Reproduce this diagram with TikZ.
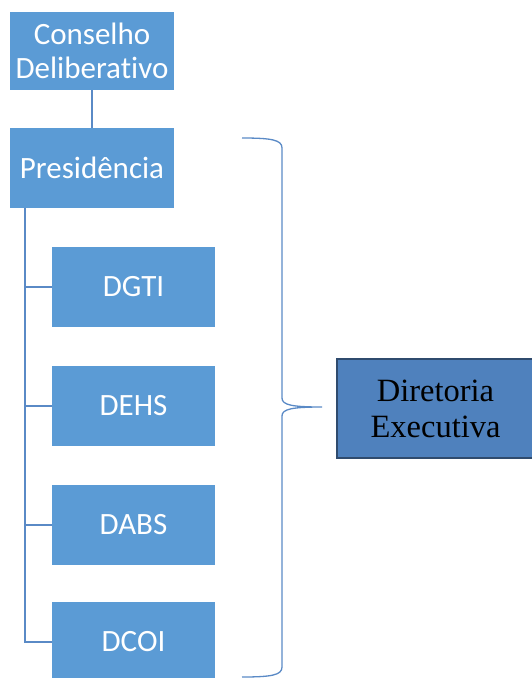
\documentclass[tikz,border=0pt]{standalone}
\usepackage{fontspec}
\setmainfont{Carlito}[Ligatures={NoCommon}]
\newfontfamily\timesfont{Liberation Serif}
\definecolor{boxblue}{HTML}{5B9BD5}
\definecolor{darkblue}{HTML}{4F81BD}
\definecolor{edgeblue}{HTML}{2F4B6E}
\definecolor{lineblue}{HTML}{5A8AC6}

\begin{document}
\begin{tikzpicture}[x=1pt, y=-1pt,
    orgbox/.style={fill=boxblue, draw=none, text=white, align=center,
      inner sep=0pt, font=\fontsize{31}{34}\selectfont},
    dirbox/.style={fill=darkblue, draw=edgeblue, line width=2pt, text=black,
      align=center, inner sep=0pt, minimum width=197pt, minimum height=99pt,
      font=\timesfont\fontsize{32.5}{36}\selectfont},
    link/.style={draw=lineblue, line width=2pt},
    brace/.style={draw=lineblue, line width=1.3pt}]
  \useasboundingbox (0,0) rectangle (532,678);

  \node[orgbox, minimum width=164pt, minimum height=78pt] (cd) at (92,51)
    {Conselho\\Deliberativo};
  \node[orgbox, minimum width=164pt, minimum height=80pt] (pres) at (92,168)
    {Presidência};
  \node[orgbox, minimum width=163pt, minimum height=80pt] (dgti) at (133.5,287)   {DGTI};
  \node[orgbox, minimum width=163pt, minimum height=80pt] (dehs) at (133.5,405.5) {DEHS};
  \node[orgbox, minimum width=163pt, minimum height=80pt] (dabs) at (133.5,524.5) {DABS};
  \node[orgbox, minimum width=163pt, minimum height=80pt] (dcoi) at (133.5,642)   {DCOI};
  \node[dirbox] (dir) at (435.5,408.5) {Diretoria\\Executiva};

  % tree
  \coordinate (trunk) at ([xshift=15pt]pres.south west);
  \draw[link] (cd) -- (pres);
  \draw[link] (trunk) |- (dcoi.west);
  \draw[link] (trunk |- dgti.west) -- (dgti.west);
  \draw[link] (trunk |- dehs.west) -- (dehs.west);
  \draw[link] (trunk |- dabs.west) -- (dabs.west);

  % brace
  \coordinate (btop) at (242,138);
  \coordinate (tip) at (322,407);
  \coordinate (bbot) at (242,677);
  \draw[brace] (btop) .. controls (272,138) and (282,140) .. (282,148)
    -- (282,398) .. controls (282,405) and (292,407) .. (tip)
    .. controls (292,407) and (282,409) .. (282,416)
    -- (282,667) .. controls (282,675) and (272,677) .. (bbot);
\end{tikzpicture}
\end{document}
